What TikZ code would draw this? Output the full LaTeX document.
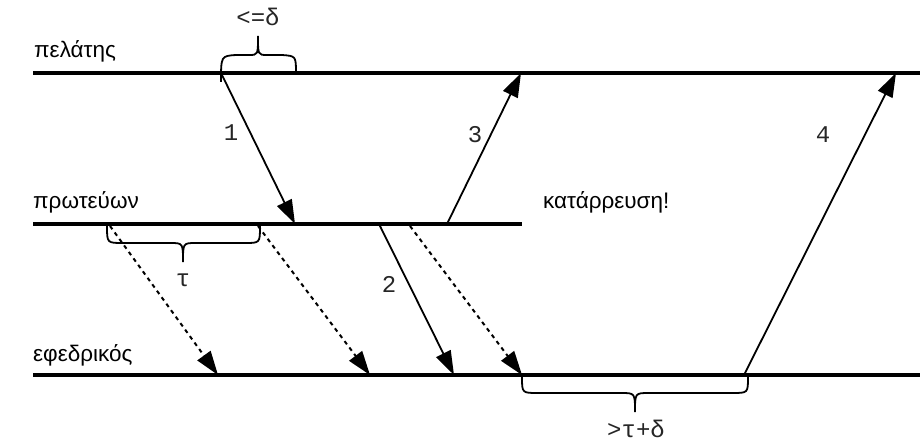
\documentclass[tikz,border=0pt]{standalone}
\usepackage{fontspec}
\setmainfont{Liberation Sans}
\newfontfamily\monof{Liberation Mono}
\usetikzlibrary{arrows.meta}
\begin{document}
\begin{tikzpicture}[x=1pt,y=-1pt,
  timeline/.style={line width=4pt},
  msg/.style={line width=1.8pt,-{Triangle[length=24pt,width=16pt]}},
  lost/.style={line width=2pt,dash pattern=on 4pt off 4pt,-{Triangle[length=24pt,width=16pt]}},
  bracel/.style={line width=1.8pt},
  actor/.style={font=\fontsize{22.5}{26}\selectfont,anchor=base west,inner sep=0pt},
  monolab/.style={font=\monof\fontsize{24}{26}\selectfont,text=black!85,inner sep=0pt}]
\useasboundingbox (0,0) rectangle (920,443);
% timelines
\coordinate (cL) at (33,73); \coordinate (cR) at (920,73);
\coordinate (pL) at (33,224); \coordinate (pR) at (522,224);
\coordinate (bL) at (33,375); \coordinate (bR) at (920,375);
\draw[timeline] (cL) -- (cR);
\draw[timeline] (pL) -- (pR);
\draw[timeline] (bL) -- (bR);
% labels
\node[actor] (lc) at (34,58) {πελάτης};
\node[actor] (lp) at (33,209) {πρωτεύων};
\node[actor] (lb) at (33,361) {εφεδρικός};
\node[actor] (crash) at (543,209) {κατάρρευση!};
% message endpoints
\coordinate (m1s) at (221,73); \coordinate (m1e) at (295,224);
\coordinate (m3s) at (447,224); \coordinate (m3e) at (521,73);
\coordinate (m4s) at (744,375); \coordinate (m4e) at (896,73);
\coordinate (m2s) at (379,224); \coordinate (m2e) at (454,375);
\coordinate (d1s) at (110,226); \coordinate (d1e) at (218,375);
\coordinate (d2s) at (258,226); \coordinate (d2e) at (370,375);
\coordinate (d3s) at (410,226); \coordinate (d3e) at (522,375);
\draw[msg] (m1s) -- (m1e);
\draw[msg] (m3s) -- (m3e);
\draw[msg] (m4s) -- (m4e);
\draw[msg] (m2s) -- (m2e);
\draw[lost] (d1s) -- (d1e);
\draw[lost] (d2s) -- (d2e);
\draw[lost] (d3s) -- (d3e);
\node[monolab] (n1) at (231,133) {1};
\node[monolab] (n3) at (475,135) {3};
\node[monolab] (n2) at (389,284) {2};
\node[monolab] (n4) at (823,135) {4};
% braces
\draw[bracel] (221,82) .. controls (221,56) .. (236,55) -- (249,55) .. controls (258,55) .. (258,36) .. controls (258,55) .. (267,55) -- (282,55) .. controls (296,56) .. (296,74);
\draw[bracel] (107,226) .. controls (107,243) .. (123,243) -- (170,243) .. controls (183,243) .. (183,262) .. controls (183,243) .. (196,243) -- (245,243) .. controls (260,243) .. (260,226);
\draw[bracel] (522,377) .. controls (522,393) .. (538,393) -- (621,393) .. controls (635,393) .. (635,412) .. controls (635,393) .. (649,393) -- (732,393) .. controls (748,393) .. (748,377);
\node[monolab] (lt1) at (258,17) {<=δ};
\node[monolab] (lt2) at (183,280) {τ};
\node[monolab] (lt3) at (636,429) {>τ+δ};
\end{tikzpicture}
\end{document}
